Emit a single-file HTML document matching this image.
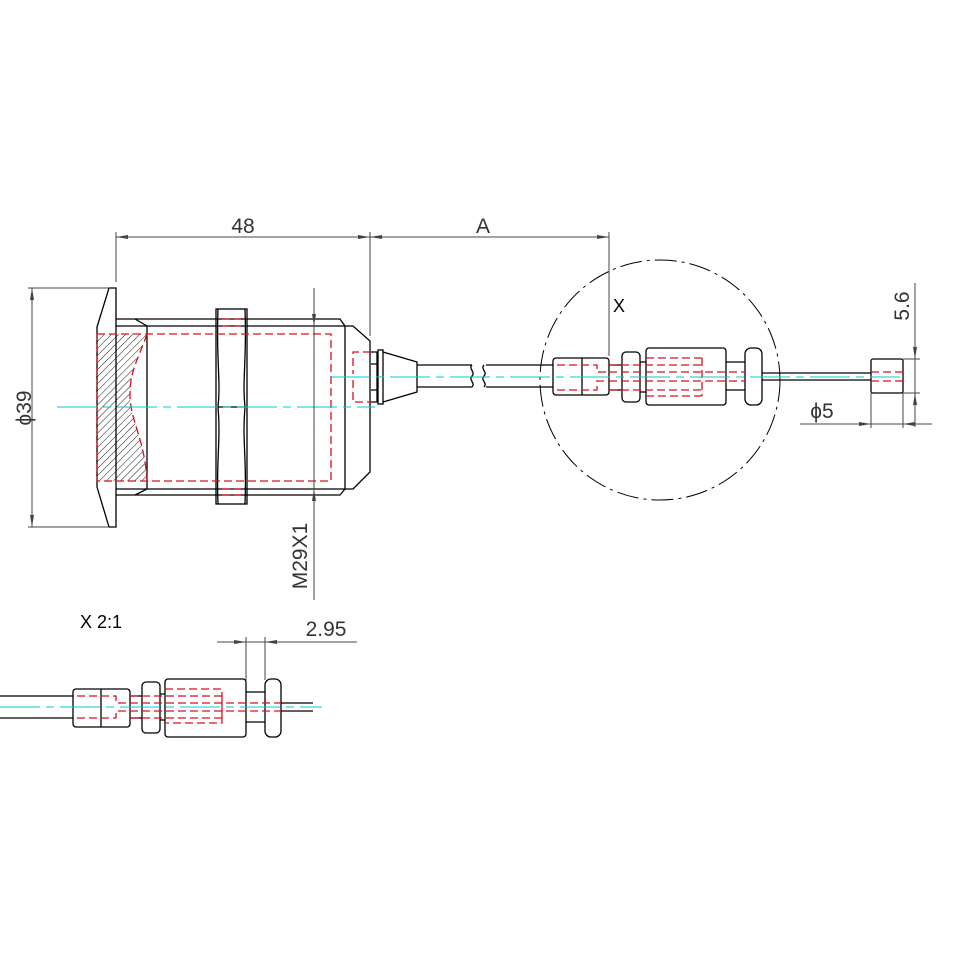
<!DOCTYPE html>
<html><head><meta charset="utf-8"><style>html,body{margin:0;padding:0;background:#fff}svg{display:block}</style></head>
<body>
<svg width="964" height="964" viewBox="0 0 964 964" xmlns="http://www.w3.org/2000/svg" font-family="Liberation Sans, sans-serif">
<defs>
<pattern id="h" width="5" height="5" patternUnits="userSpaceOnUse" patternTransform="rotate(45)"><line x1="0" y1="0" x2="0" y2="5" stroke="#000" stroke-width="0.9"/></pattern>
</defs>
<rect width="964" height="964" fill="#fff"/>
<g fill="none" stroke="#000" stroke-width="1.3">
<path d="M97,334 L147,334 C138,360 130,370 130,395 C130,420 145,440 147,481 L97,481 Z" fill="url(#h)" stroke="none"/>
<path d="M109,288 L116,288 L116,527 L109,527 L97,487 L97,327 Z"/>
<path d="M116,319 L340,319 L345,326 M116,326 L345,326 L345,489 L116,489 M116,495 L340,495 L345,489"/>
<path d="M135,319 L147,326 L147,489 L135,495"/>
<path d="M345,326 L353,326 L370,341 L370,472 L353,489 L345,489"/>
<rect x="216" y="309" width="31" height="195"/>
<path d="M218,309 C216,360 221,380 218,407 C221,440 216,460 218,504 M245,309 C247,360 242,380 245,407 C242,440 247,460 245,504 M218,407 L245,407"/>
<path d="M371,352 L377,352 L377,402 L371,402 M371,364 L377,364 M371,390 L377,390"/>
<rect x="378" y="350" width="5" height="54"/>
<path d="M383,352 L417,362 L417,392 L383,402"/>
<path d="M417,365 L472,365 M417,387 L472,387 M486,365 L553,365 M486,387 L553,387"/>
<path d="M472,365 c-4,4 4,7 0,11 c-4,4 4,7 0,11 M484,365 c-4,4 4,7 0,11 c-4,4 4,7 0,11"/>
<rect x="553" y="358" width="56" height="37" rx="3"/>
<line x1="582" y1="358" x2="582" y2="395"/>
<rect x="622" y="352" width="18" height="50" rx="4"/>
<path d="M609,365 L622,365 M609,390 L622,390"/>
<rect x="646" y="348" width="80" height="57" rx="3"/>
<path d="M640,362 L646,362 M640,392 L646,392 M726,362 L745,362 M726,390 L745,390"/>
<rect x="745" y="348" width="17" height="57" rx="6"/>
<path d="M762,373 L871,373 M762,380 L871,380"/>
<rect x="871" y="359" width="32" height="34" rx="2"/>
<path d="M0,696 L73,696 M0,718 L73,718"/>
<rect x="73" y="689" width="57" height="38" rx="3"/>
<line x1="101" y1="689" x2="101" y2="727"/>
<rect x="142" y="682" width="18" height="51" rx="4"/>
<path d="M130,696 L142,696 M130,718 L142,718 M160,694 L165,694 M160,720 L165,720"/>
<rect x="165" y="679" width="81" height="58" rx="3"/>
<path d="M246,692 L265,692 M246,722 L265,722"/>
<rect x="265" y="679" width="16" height="58" rx="6"/>
<path d="M281,703 L313,703 M281,711 L313,711"/>
</g>
<circle cx="660" cy="380" r="120" fill="none" stroke="#000" stroke-width="1" stroke-dasharray="22,5,3,5"/>
<g fill="none" stroke="#d8101c" stroke-width="1.3" stroke-dasharray="8,4">
<rect x="97" y="334" width="234" height="147"/>
<path d="M147,334 C138,360 130,370 130,395 C130,420 145,440 147,481"/>
<path d="M222,319 L241,319 M222,326 L241,326 M222,489 L241,489 M222,495 L241,495"/>
<path d="M371,352 L353,352 L353,374 M353,380 L353,402 L371,402"/>
<path d="M557,365 L597,365 L597,372 L609,372 M557,390 L597,390 L597,381 L609,381"/>
<path d="M609,365 L702,365 M609,390 L702,390 M609,372 L745,372 M609,381 L745,381 M702,358 L702,396 M646,358 L702,358 M646,396 L702,396"/>
<path d="M871,372 L903,372 M871,381 L903,381"/>
<path d="M77,696 L116,696 L116,703 L130,703 M77,718 L116,718 L116,711 L130,711"/>
<path d="M130,703 L281,703 M130,711 L281,711 M130,696 L222,696 M130,718 L222,718 M165,689 L222,689 L222,723 L165,723 M222,696 L222,718"/>
</g>
<g stroke="#00c8d8" stroke-width="1.1" fill="none" stroke-dasharray="40,6,8,6">
<line x1="57" y1="407" x2="375" y2="407"/>
<line x1="330" y1="377" x2="900" y2="377"/>
<line x1="0" y1="707" x2="322" y2="707"/>
</g>
<g stroke="#444" stroke-width="1" fill="none">
<path d="M116,232 L116,282 M370,232 L370,336 M609,232 L609,356"/>
<path d="M116,237 L609,237"/>
<path d="M32,288 L32,527 M28,288 L109,288 M28,527 L109,527"/>
<path d="M314,288 L314,600"/>
<path d="M915,283 L915,427 M903,359 L920,359 M903,393 L920,393"/>
<path d="M800,424 L932,424 M871,393 L871,428 M903,393 L903,428"/>
<path d="M217,642 L357,642 M246,637 L246,680 M265,637 L265,680"/>
</g>
<g fill="#444">
<path d="M116,237 l12,-2 v4z M370,237 l-12,-2 v4z M370,237 l12,-2 v4z M609,237 l-12,-2 v4z"/>
<path d="M32,288 l-2,12 h4z M32,527 l-2,-12 h4z"/>
<path d="M314,326 l-2,-12 h4z M314,489 l-2,12 h4z"/>
<path d="M915,359 l-2,-12 h4z M915,393 l-2,12 h4z"/>
<path d="M871,424 l-12,-2 v4z M903,424 l12,-2 v4z"/>
<path d="M246,642 l-12,-2 v4z M265,642 l12,-2 v4z"/>
</g>
<g fill="#333" font-size="21">
<text x="243" y="233" text-anchor="middle">48</text>
<text x="483" y="233" text-anchor="middle">A</text>
<text x="24" y="408" text-anchor="middle" transform="rotate(-90 24 408)" dy="7">ϕ39</text>
<text x="300" y="556" text-anchor="middle" transform="rotate(-90 300 556)" dy="7">M29X1</text>
<text x="902" y="306" text-anchor="middle" transform="rotate(-90 902 306)" dy="7">5.6</text>
<text x="822" y="418" text-anchor="middle">ϕ5</text>
<text x="326" y="636" text-anchor="middle">2.95</text>
</g>
<g fill="#000" font-size="18">
<text x="613" y="312">X</text>
<text x="80" y="628">X 2:1</text>
</g>
</svg>
</body></html>
